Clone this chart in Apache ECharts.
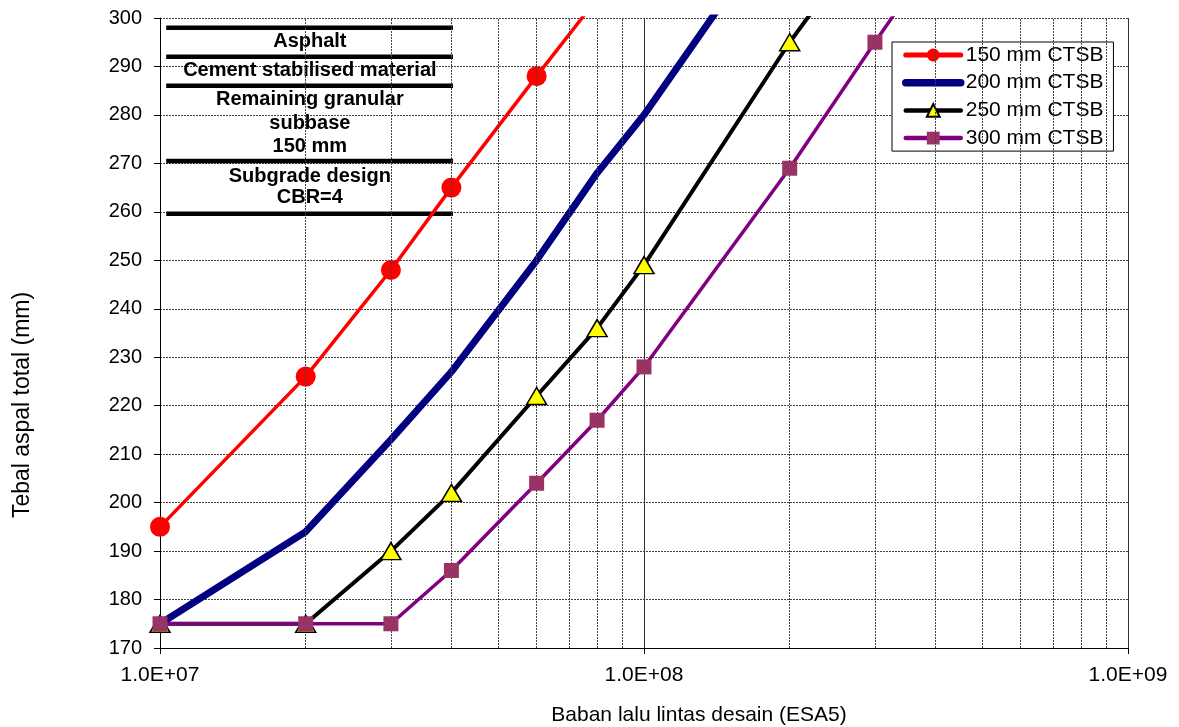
<!DOCTYPE html>
<html>
<head>
<meta charset="utf-8">
<script src="https://cdn.jsdelivr.net/npm/echarts@6/dist/echarts.min.js"></script>
<style>
html,body{margin:0;padding:0;background:#fff;}
#chart{width:1179px;height:727px;}
</style>
</head>
<body>
<div id="chart"></div>
<script>
// ---- data ----
const xValues = [1e7, 2e7, 3e7, 4e7, 6e7, 8e7, 1e8, 2e8, 3e8, 4e8];
const seriesNames = ['150 mm CTSB', '200 mm CTSB', '250 mm CTSB', '300 mm CTSB'];
const ctsb150 = [195, 226, 248, 265, 288, 304, null, null, null, null];
const ctsb200 = [175, 194, 213, 227, 250, 268, 280, 323, null, null];
const ctsb250 = [175, 175, 190, 202, 222, 236, 249, 295, 319, null];
const ctsb300 = [175, 175, 175, 186, 204, 217, 228, 269, 295, 313];
const minorGridX = [2e7,3e7,4e7,5e7,6e7,7e7,8e7,9e7,2e8,3e8,4e8,5e8,6e8,7e8,8e8,9e8];
// inset layer diagram (data coordinates)
const insetX = [1.03e7, 4.03e7];
const insetCenterX = 2.04e7;
const insetLayerLines = [298, 292, 286, 270.5, 259.6];
const insetLabels = ['Asphalt', 'Cement stabilised material', 'Remaining granular', 'subbase', '150 mm', 'Subgrade design', 'CBR=4'];
const insetLabelY = [295.1, 289.1, 283.1, 278.3, 273.4, 267.4, 262.9];

const FONT = 'Arial, "Liberation Sans", Helvetica, sans-serif';
const pair = arr => xValues.map((x, i) => [x, arr[i]]).filter(p => p[1] != null);

const chart = echarts.init(document.getElementById('chart'));
const option = {
  backgroundColor: '#fff',
  animation: false,
  textStyle: { fontFamily: FONT, color: '#000' },
  grid: { left: 160, right: 51, top: 18, bottom: 79, containLabel: false, outerBoundsMode: 'none' },
  legend: {
    data: [
      { name: seriesNames[0], lineStyle: { width: 5, cap: 'round' } },
      { name: seriesNames[1], lineStyle: { width: 7.5, cap: 'round' }, itemStyle: { opacity: 0 } },
      { name: seriesNames[2], lineStyle: { width: 4.5, cap: 'round' } },
      { name: seriesNames[3], lineStyle: { width: 4.5, cap: 'round' } }
    ],
    orient: 'vertical',
    left: 892, top: 42,
    padding: [1, 10, 1, 10],
    itemGap: 3.7,
    itemWidth: 55, itemHeight: 16,
    backgroundColor: '#fff',
    borderColor: '#000', borderWidth: 1,
    textStyle: { fontFamily: FONT, fontSize: 21, color: '#000', lineHeight: 24 }
  },
  xAxis: {
    type: 'log', logBase: 10, min: 1e7, max: 1e9, interval: 1,
    name: 'Baban lalu lintas desain (ESA5)',
    nameLocation: 'middle', nameGap: 57,
    nameTextStyle: { fontFamily: FONT, fontSize: 21, color: '#000', padding: [0, 0, 0, 110] },
    axisLine: { lineStyle: { color: '#000', width: 1 } },
    axisTick: { show: true, length: 6, lineStyle: { color: '#000' } },
    axisLabel: {
      fontFamily: FONT, fontSize: 21, color: '#000', margin: 17,
      formatter: v => {
        const e = Math.round(Math.log10(v));
        const m = v / Math.pow(10, e);
        return m.toFixed(1) + 'E+' + String(e).padStart(2, '0');
      }
    },
    splitLine: { show: true, lineStyle: { color: '#333', width: 1 } }
  },
  yAxis: {
    type: 'value', min: 170, max: 300, interval: 10,
    name: 'Tebal aspal total (mm)',
    nameLocation: 'middle', nameGap: 126, nameRotate: 90,
    nameTextStyle: { fontFamily: FONT, fontSize: 23, color: '#000', padding: [0, 144, 0, 0] },
    axisLine: { show: true, lineStyle: { color: '#000', width: 1 } },
    axisTick: { show: true, length: 6, lineStyle: { color: '#000' } },
    axisLabel: { fontFamily: FONT, fontSize: 20, color: '#000', margin: 18 },
    splitLine: { show: true, lineStyle: { color: '#444', width: 1, type: [2, 1] } }
  },
  series: [
    {
      name: 'minor', type: 'line', data: [], silent: true, z: 1,
      markLine: {
        silent: true, symbol: 'none', animation: false,
        label: { show: false },
        lineStyle: { color: '#444', width: 1, type: [2, 1] },
        data: minorGridX.map(v => ({ xAxis: v }))
      }
    },
    {
      name: 'insetLines', type: 'custom', silent: true, z: 2,
      data: insetLayerLines.map(y => [insetX[0], insetX[1], y]),
      renderItem: (params, api) => {
        const p1 = api.coord([api.value(0), api.value(2)]);
        const p2 = api.coord([api.value(1), api.value(2)]);
        return { type: 'line', shape: { x1: p1[0], y1: p1[1], x2: p2[0], y2: p2[1] },
                 style: { stroke: '#000', lineWidth: 4.5 } };
      }
    },
    {
      name: 'insetText', type: 'custom', silent: true, z: 2,
      data: insetLabels.map((t, i) => [insetCenterX, insetLabelY[i], t]),
      renderItem: (params, api) => {
        const p = api.coord([api.value(0), api.value(1)]);
        return { type: 'text', x: p[0], y: p[1],
                 style: { text: insetLabels[params.dataIndex], fill: '#000', font: 'bold 20px ' + FONT,
                          textAlign: 'center', textVerticalAlign: 'middle' } };
      }
    },
    {
      name: seriesNames[0], type: 'line', data: pair(ctsb150), z: 3,
      color: '#ff0000',
      lineStyle: { color: '#ff0000', width: 3.5 },
      symbol: 'circle', symbolSize: 20,
      itemStyle: { color: '#ff0000', borderWidth: 0 }
    },
    {
      name: seriesNames[1], type: 'line', data: pair(ctsb200), z: 4,
      color: '#000080',
      lineStyle: { color: '#000080', width: 7 },
      symbol: 'none'
    },
    {
      name: seriesNames[2], type: 'line', data: pair(ctsb250), z: 5,
      color: '#000000',
      lineStyle: { color: '#000000', width: 4 },
      symbol: 'triangle', symbolSize: [20, 17],
      itemStyle: { color: '#ffff00', borderColor: '#000', borderWidth: 1.5 }
    },
    {
      name: seriesNames[3], type: 'line', data: pair(ctsb300), z: 6,
      color: '#800080',
      lineStyle: { color: '#800080', width: 3.5 },
      symbol: 'rect', symbolSize: 15,
      itemStyle: { color: '#993366', borderWidth: 0 }
    }
  ]
};
chart.setOption(option);
</script>
</body>
</html>
